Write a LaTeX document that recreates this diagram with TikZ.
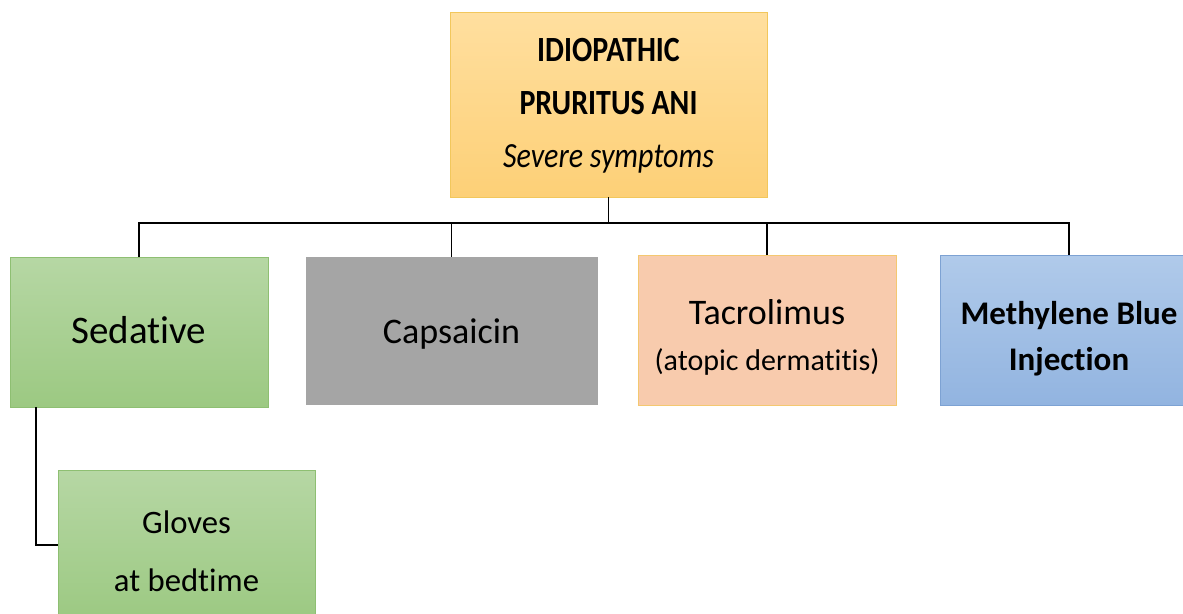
\documentclass[tikz,border=0pt]{standalone}
\usepackage{fontspec}
\usepackage{graphicx}
\setmainfont{Carlito}[Ligatures={NoCommon}]
\definecolor{orT}{HTML}{FFDF9F}
\definecolor{orB}{HTML}{FDD077}
\definecolor{orD}{HTML}{F2C75C}
\definecolor{grT}{HTML}{B6D7A4}
\definecolor{grB}{HTML}{9CC982}
\definecolor{grD}{HTML}{8EBF72}
\definecolor{gyF}{HTML}{A5A5A5}
\definecolor{peF}{HTML}{F8CBAD}
\definecolor{peD}{HTML}{F4C870}
\definecolor{blT}{HTML}{B0CAEA}
\definecolor{blB}{HTML}{92B4E0}
\definecolor{blD}{HTML}{7DA2D3}
\newcommand{\tallx}[1]{\scalebox{1}[1.18]{#1}}
\tikzset{
  box/.style={rectangle, inner sep=0pt, line width=0.8pt},
  orbox/.style={box, draw=orD, top color=orT, bottom color=orB},
  grbox/.style={box, draw=grD, top color=grT, bottom color=grB},
  gybox/.style={box, draw=gyF, fill=gyF},
  pebox/.style={box, draw=peD, fill=peF},
  blbox/.style={box, draw=blD, top color=blT, bottom color=blB},
  txt/.style={inner sep=0pt, align=center},
  conn/.style={draw=black, line width=1.2pt}
}
\begin{document}
\begin{tikzpicture}[x=1pt,y=-1pt]
\useasboundingbox (0,0) rectangle (1183,613);
\clip (0,0) rectangle (1183,613);
\node[orbox, minimum width=317pt, minimum height=185pt] (top) at (608.5,104.5) {};
\node[grbox, minimum width=258pt, minimum height=150pt] (sed) at (139,332) {};
\node[gybox, minimum width=291pt, minimum height=147pt] (cap) at (451.5,330.5) {};
\node[pebox, minimum width=258pt, minimum height=150pt] (tac) at (767,330) {};
\node[blbox, minimum width=258pt, minimum height=150pt] (meth) at (1069,330) {};
\node[grbox, minimum width=257pt, minimum height=150pt] (glv) at (186.5,545) {};
\node[txt, font=\fontsize{30}{53}\selectfont] (topT) at (608.5,106)
  {\tallx{\bfseries IDIOPATHIC}\\ \tallx{\bfseries PRURITUS ANI}\\ \tallx{\itshape Severe symptoms}};
\node[txt, font=\fontsize{39}{44}\selectfont] (sedT) at (139,330) {Sedative};
\node[txt, font=\fontsize{36}{44}\selectfont] (capT) at (451.5,334) {Capsaicin};
\node[txt, font=\fontsize{36}{46}\selectfont] (tacT) at (767,337)
  {Tacrolimus\\ \fontsize{30}{46}\selectfont (atopic dermatitis)};
\node[txt, font=\fontsize{33}{46}\selectfont\bfseries] (methT) at (1069,339)
  {Methylene Blue\\ Injection};
\node[txt, font=\fontsize{32.7}{58}\selectfont] (glvT) at (186.5,551)
  {Gloves\\ at bedtime};
\coordinate (bus) at (608,223);
\draw[conn] (top.south) -- (top.south |- bus);
\draw[conn] (sed.north) -- (sed.north |- bus) -| (meth.north);
\draw[conn] (cap.north) -- (cap.north |- bus);
\draw[conn] (tac.north) -- (tac.north |- bus);
\draw[conn] ([xshift=-103pt]sed.south) |- (glv.west);
\end{tikzpicture}
\end{document}
